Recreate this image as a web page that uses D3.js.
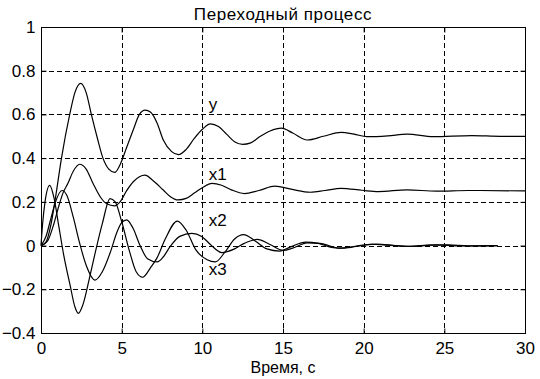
<!DOCTYPE html>
<html>
<head>
<meta charset="utf-8">
<script src="https://cdn.jsdelivr.net/npm/d3@7"></script>
<style>
  html, body { margin: 0; padding: 0; background: #fff; }
  svg { display: block; }
  text { font-family: "Liberation Sans", Arial, sans-serif; fill: #000; }
</style>
</head>
<body>
<svg id="chart" width="540" height="379"></svg>
<script>
// values: [time, value]
const y_points = [
  [0, 0], [0.3, 0.015], [0.6, 0.09], [0.9, 0.22], [1.27, 0.4], [1.78, 0.6], [2.1, 0.7],
  [2.46, 0.742], [2.8, 0.7], [3.12, 0.6], [3.5, 0.49], [3.84, 0.4], [4.2, 0.35],
  [4.57, 0.335], [4.9, 0.37], [5.29, 0.445], [5.72, 0.53], [6.1, 0.6], [6.45, 0.62],
  [6.8, 0.61], [7.2, 0.56], [7.58, 0.483], [8.1, 0.43], [8.52, 0.416], [9.0, 0.44],
  [9.5, 0.49], [10.0, 0.532], [10.5, 0.557], [11.0, 0.545], [11.5, 0.51], [12.0, 0.475],
  [12.5, 0.463], [13.0, 0.47], [13.6, 0.5], [14.2, 0.524], [14.9, 0.537], [15.6, 0.515],
  [16.5, 0.483], [17.5, 0.5], [18.6, 0.518], [19.4, 0.51], [20.2, 0.498], [21.5, 0.502],
  [22.7, 0.51], [24.3, 0.498], [26.7, 0.503], [28.5, 0.5], [30, 0.5]
];
const x1_points = [
  [0, 0], [0.4, 0.02], [0.8, 0.1], [1.1, 0.18], [1.36, 0.24], [1.67, 0.285], [2.0, 0.34],
  [2.4, 0.372], [2.8, 0.35], [3.22, 0.285], [3.7, 0.22], [4.1, 0.19], [4.55, 0.182],
  [4.9, 0.2], [5.3, 0.25], [5.72, 0.292], [6.1, 0.315], [6.45, 0.322], [6.9, 0.3],
  [7.58, 0.254], [8.0, 0.225], [8.5, 0.209], [9.0, 0.216], [9.5, 0.24], [10.0, 0.265],
  [10.6, 0.285], [11.2, 0.276], [11.8, 0.255], [12.6, 0.238], [13.5, 0.252], [14.5, 0.272],
  [15.5, 0.258], [16.7, 0.244], [17.6, 0.252], [18.6, 0.262], [19.9, 0.253], [20.9, 0.247],
  [22.7, 0.255], [24.5, 0.249], [26.5, 0.252], [30, 0.25]
];
const x2_points = [
  [0, 0], [0.3, 0.04], [0.6, 0.12], [0.9, 0.2], [1.3, 0.252], [1.6, 0.23], [2.0, 0.13],
  [2.4, 0.01], [2.8, -0.09], [3.35, -0.158], [3.8, -0.12], [4.3, -0.03], [4.7, 0.06],
  [5.0, 0.105], [5.31, 0.118], [5.7, 0.08], [6.14, 0.0], [6.6, -0.06], [7.2, -0.075],
  [7.6, -0.05], [8.0, -0.005], [8.6, 0.042], [9.35, 0.056], [9.96, 0.042], [10.5, 0.005],
  [11.2, -0.032], [12.0, -0.015], [12.6, 0.01], [13.4, 0.028], [14.2, 0.005], [15.0, -0.022],
  [15.6, -0.012], [16.5, 0.012], [17.3, 0.01], [18.5, -0.012], [19.5, -0.003], [20.5, 0.006],
  [21.5, 0.002], [22.6, -0.004], [24, 0.002], [25.2, 0.003], [26.5, -0.001], [28.3, 0]
];
const x3_points = [
  [0, 0], [0.1, 0.1], [0.25, 0.2], [0.54, 0.275], [0.8, 0.22], [1.1, 0.09], [1.4, -0.04],
  [1.8, -0.18], [2.1, -0.28], [2.31, -0.31], [2.6, -0.27], [3.0, -0.15], [3.4, -0.02],
  [3.8, 0.1], [4.28, 0.215], [4.6, 0.2], [5.0, 0.11], [5.5, -0.03], [5.9, -0.12],
  [6.3, -0.145], [6.8, -0.1], [7.2, -0.055], [7.7, 0.03], [8.45, 0.112], [9.0, 0.07],
  [9.6, -0.02], [10.3, -0.065], [10.8, -0.075], [11.4, -0.03], [12.0, 0.03], [12.55, 0.05],
  [13.3, 0.02], [14.0, -0.015], [14.8, -0.025], [15.5, -0.005], [16.4, 0.016], [17.2, 0.01],
  [18.0, -0.008], [18.8, -0.012], [19.8, 0.0], [20.8, 0.007], [22, 0.0], [23, -0.004],
  [24.5, 0.003], [26, -0.002], [28.3, 0]
];

const series_names = ["y", "x1", "x2", "x3"];
const series_points = [y_points, x1_points, x2_points, x3_points];
// where each name label sits: [time, value]
const label_anchor = [[10.4, 0.62], [10.4, 0.3], [10.4, 0.09], [10.4, -0.135]];

const x_ticks = [0, 5, 10, 15, 20, 25, 30];
const y_ticks = [-0.4, -0.2, 0, 0.2, 0.4, 0.6, 0.8, 1];

const title_text = "Переходный процесс";
const x_label_text = "Время, с";

const margin = { top: 27, right: 15, bottom: 46, left: 41 };
const width = 540;
const height = 379;
const font_size = 17;

const svg = d3.select("#chart");

const x = d3.scaleLinear().domain([0, 30]).range([margin.left, width - margin.right]);
const y = d3.scaleLinear().domain([-0.4, 1]).range([height - margin.bottom, margin.top]);

// dashed grid
const grid = svg.append("g")
  .attr("stroke", "#000")
  .attr("stroke-width", 1)
  .attr("stroke-dasharray", "5,3")
  .attr("shape-rendering", "crispEdges");

grid.selectAll("line.v")
  .data(x_ticks.slice(1, -1))
  .join("line")
  .attr("class", "v")
  .attr("x1", (d) => Math.round(x(d)) + 0.5)
  .attr("x2", (d) => Math.round(x(d)) + 0.5)
  .attr("y1", y(1))
  .attr("y2", y(-0.4));

grid.selectAll("line.h")
  .data(y_ticks.slice(1, -1))
  .join("line")
  .attr("class", "h")
  .attr("y1", (d) => Math.round(y(d)) + 0.5)
  .attr("y2", (d) => Math.round(y(d)) + 0.5)
  .attr("x1", x(0))
  .attr("x2", x(30));

// curves
const line = d3.line()
  .x((d) => x(d[0]))
  .y((d) => y(d[1]))
  .curve(d3.curveMonotoneX);

svg.append("g")
  .attr("fill", "none")
  .attr("stroke", "#000")
  .attr("stroke-width", 1.2)
  .selectAll("path")
  .data(series_points)
  .join("path")
  .attr("d", line);

// box
svg.append("rect")
  .attr("x", Math.round(x(0)) + 0.5)
  .attr("y", Math.round(y(1)) + 0.5)
  .attr("width", Math.round(x(30)) - Math.round(x(0)))
  .attr("height", Math.round(y(-0.4)) - Math.round(y(1)))
  .attr("fill", "none")
  .attr("stroke", "#000")
  .attr("stroke-width", 1.5)
  .attr("shape-rendering", "crispEdges");

// axes, ticks drawn inward like the original
const x_axis = d3.axisBottom(x).tickValues(x_ticks).tickSize(-5).tickPadding(8).tickFormat(d3.format("d"));
const y_axis = d3.axisLeft(y).tickValues(y_ticks).tickSize(-5).tickPadding(6).tickFormat((d) => d === 0 ? "0" : d3.format("")(d));

const gx = svg.append("g")
  .attr("transform", `translate(0,${Math.round(y(-0.4)) + 0.5})`)
  .call(x_axis);
const gy = svg.append("g")
  .attr("transform", `translate(${Math.round(x(0)) + 0.5},0)`)
  .call(y_axis);

[gx, gy].forEach((g) => {
  g.select(".domain").remove();
  g.selectAll(".tick line").attr("stroke", "#000");
  g.selectAll(".tick text")
    .attr("font-size", font_size)
    .attr("font-family", "Liberation Sans, Arial, sans-serif")
    .attr("fill", "#000");
});

// matching inner ticks on the top and right sides
svg.append("g")
  .attr("transform", `translate(0,${Math.round(y(1)) + 0.5})`)
  .call(d3.axisTop(x).tickValues(x_ticks).tickSize(-5).tickFormat(""))
  .call((g) => g.select(".domain").remove());
svg.append("g")
  .attr("transform", `translate(${Math.round(x(30)) + 0.5},0)`)
  .call(d3.axisRight(y).tickValues(y_ticks).tickSize(-5).tickFormat(""))
  .call((g) => g.select(".domain").remove());

// series names
svg.append("g")
  .selectAll("text")
  .data(series_names)
  .join("text")
  .attr("x", (d, i) => x(label_anchor[i][0]))
  .attr("y", (d, i) => y(label_anchor[i][1]))
  .attr("font-size", font_size)
  .text((d) => d);

// title and x label
svg.append("text")
  .attr("x", (x(0) + x(30)) / 2)
  .attr("y", 20)
  .attr("text-anchor", "middle")
  .attr("font-size", font_size)
  .attr("letter-spacing", 0.6)
  .text(title_text);

svg.append("text")
  .attr("x", (x(0) + x(30)) / 2)
  .attr("y", 373)
  .attr("text-anchor", "middle")
  .attr("font-size", 16)
  .text(x_label_text);
</script>
</body>
</html>
